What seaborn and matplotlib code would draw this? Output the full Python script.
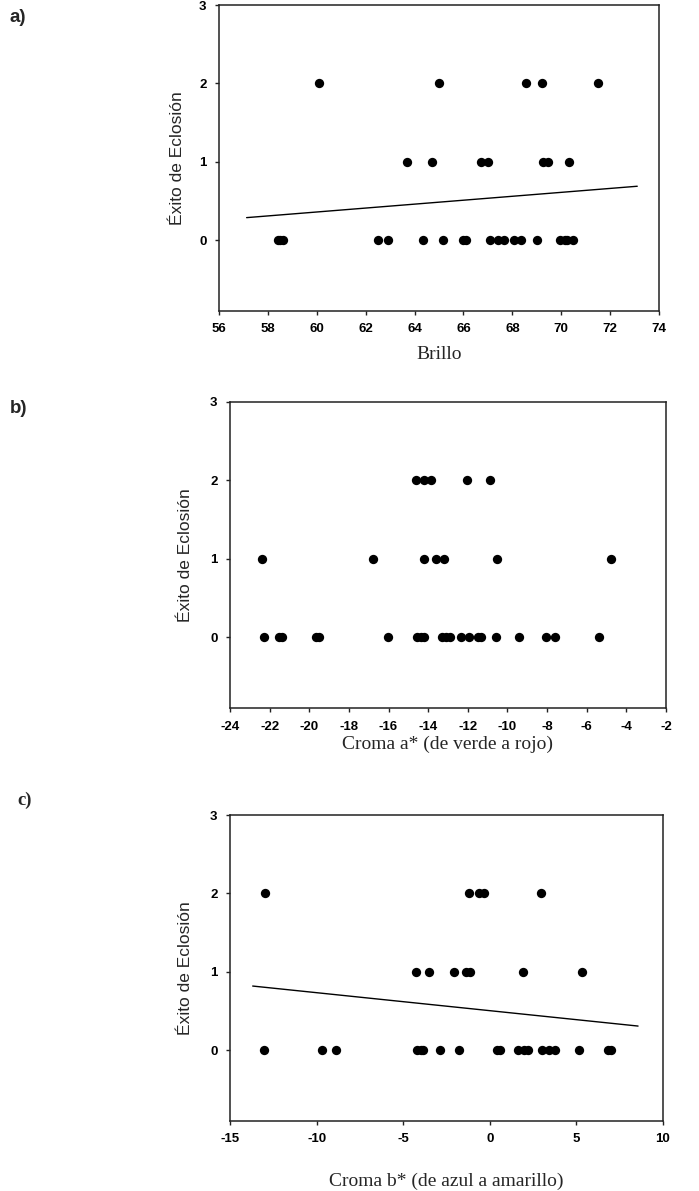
import numpy as np
import pandas as pd
import matplotlib
matplotlib.use("Agg")
import matplotlib.pyplot as plt
import seaborn as sns

# Panel a: Brillo
brillo = [60.1, 65.0, 68.55, 69.2, 71.5,
          63.7, 64.7, 66.7, 67.0, 69.25, 69.45, 70.3,
          58.4, 58.5, 58.6, 62.5, 62.9, 64.35, 65.15, 66.0, 66.1, 67.1, 67.4,
          67.65, 68.05, 68.35, 69.0, 69.95, 70.15, 70.25, 70.5]
exito_a = [2] * 5 + [1] * 7 + [0] * 19
ajuste_a_x = [57.13, 73.11]
ajuste_a_y = [0.29, 0.69]

# Panel b: Croma a*
croma_a = [-14.6, -14.2, -13.85, -12.05, -10.9,
           -22.4, -16.8, -14.2, -13.6, -13.2, -10.55, -4.8,
           -22.3, -21.55, -21.4, -19.65, -19.5, -16.05, -14.55, -14.35, -14.2,
           -13.3, -13.1, -12.9, -12.35, -11.95, -11.5, -11.35, -10.6, -9.4,
           -8.05, -7.6, -5.4]
exito_b = [2] * 5 + [1] * 7 + [0] * 21

# Panel c: Croma b*
croma_b = [-13.0, -1.2, -0.6, -0.35, 2.95,
           -4.25, -3.5, -2.05, -1.35, -1.15, 1.9, 5.35,
           -13.05, -9.7, -8.9, -4.2, -4.0, -3.85, -2.85, -1.8, 0.4, 0.6, 1.65,
           2.0, 2.2, 3.0, 3.4, 3.75, 5.15, 6.85, 7.0]
exito_c = [2] * 5 + [1] * 7 + [0] * 19
ajuste_c_x = [-13.69, 8.56]
ajuste_c_y = [0.82, 0.31]

ylabel = "Éxito de Eclosión"
xlabels = ["Brillo", "Croma a* (de verde a rojo)", "Croma b* (de azul a amarillo)"]
letras = ["a)", "b)", "c)"]

sns.set_style("ticks")
plt.rcParams['font.family'] = ['Liberation Sans', 'DejaVu Sans']
plt.rcParams['axes.unicode_minus'] = False

fig = plt.figure(figsize=(6.99, 11.91), dpi=100)
ax_a = fig.add_axes([219 / 699, 1 - 311 / 1191, 440 / 699, 306 / 1191])
ax_b = fig.add_axes([230 / 699, 1 - 708 / 1191, 436 / 699, 306 / 1191])
ax_c = fig.add_axes([230 / 699, 1 - 1121 / 1191, 433 / 699, 306 / 1191])


def dibujar(ax, x, y, xlim, xticks, xlabel, xpad, ypad, fit_x=None, fit_y=None):
    df = pd.DataFrame({"x": x, "y": y})
    sns.scatterplot(data=df, x="x", y="y", ax=ax, color="black", s=45,
                    edgecolor="black", linewidth=0, zorder=3)
    if fit_x is not None:
        sns.lineplot(x=fit_x, y=fit_y, ax=ax, color="black", linewidth=1.0)
    ax.set_xlim(*xlim)
    ax.set_ylim(-0.9, 3)
    ax.set_xticks(xticks)
    ax.set_yticks([0, 1, 2, 3])
    ax.tick_params(direction="out", length=3, width=1, colors="#222222", pad=6)
    for lab in ax.get_xticklabels() + ax.get_yticklabels():
        lab.set_fontweight("bold")
        lab.set_fontsize(9.5)
        lab.set_color("black")
    for sp in ax.spines.values():
        sp.set_visible(True)
        sp.set_linewidth(1.1)
        sp.set_color("#222222")
    ax.set_xlabel(xlabel, family="Liberation Serif", fontsize=14, labelpad=xpad)
    ax.set_ylabel(ylabel, fontsize=12.5, labelpad=ypad)


dibujar(ax_a, brillo, exito_a, (56, 74), np.arange(56, 75, 2), xlabels[0], 7.5, 10,
        ajuste_a_x, ajuste_a_y)
dibujar(ax_b, croma_a, exito_b, (-24, -2), np.arange(-24, -1, 2), xlabels[1], 2, 12)
dibujar(ax_c, croma_b, exito_c, (-15, 10), np.arange(-15, 11, 5), xlabels[2], 19.5, 12,
        ajuste_c_x, ajuste_c_y)

# etiquetas de los paneles
fig.text(10 / 699, 1 - 17 / 1191, letras[0], fontsize=13.5, fontweight="bold", va="center")
fig.text(10 / 699, 1 - 408 / 1191, letras[1], fontsize=13.5, fontweight="bold", va="center")
fig.text(17 / 699, 1 - 800 / 1191, letras[2], fontsize=13.5, fontweight="bold",
         family="Liberation Serif", va="center")

fig.savefig("out.png", dpi=100)
